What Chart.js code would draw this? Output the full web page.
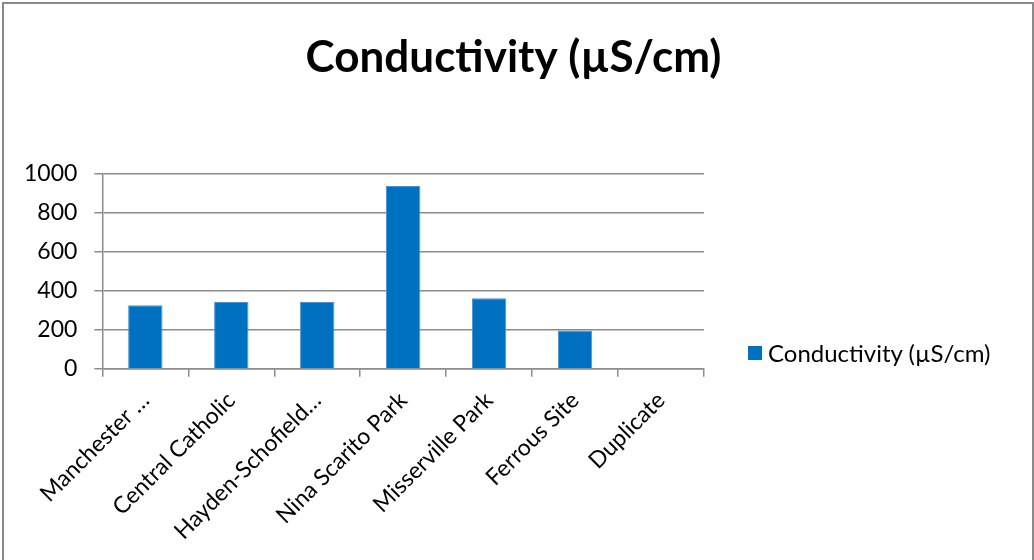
<!DOCTYPE html>
<html>
<head>
<meta charset="utf-8">
<script src="https://cdn.jsdelivr.net/npm/chart.js@4"></script>
<style>
html,body{margin:0;padding:0;background:#fff;}
#wrap{position:relative;width:1034px;height:560px;}
#legend{position:absolute;left:748px;top:339px;font-family:Lato, sans-serif;font-size:24px;color:#000;white-space:nowrap;line-height:28px;}
#legend .item{display:flex;align-items:center;}
#legend .box{display:inline-block;width:14px;height:14px;margin-right:6px;}
</style>
</head>
<body>
<div id="wrap"><canvas id="c" width="1034" height="560"></canvas><div id="legend"></div></div>
<script>
const categories = ["Manchester …", "Central Catholic", "Hayden-Schofield…", "Nina Scarito Park", "Misserville Park", "Ferrous Site", "Duplicate"];
const seriesName = "Conductivity (µS/cm)";
const conductivity = [326, 342, 342, 938, 362, 196, 0];
const yTicks = [0, 200, 400, 600, 800, 1000];

const FONT = "Lato";
const gridColor = "#8c8c8c";
const barColor = "#0070C0";

const borderPlugin = {
  id: 'outerBorder',
  beforeDraw(chart) {
    const ctx = chart.ctx;
    ctx.save();
    ctx.fillStyle = '#fff';
    ctx.fillRect(0, 0, chart.width, chart.height);
    ctx.strokeStyle = '#8a8a8a';
    ctx.lineWidth = 2;
    ctx.beginPath();
    ctx.moveTo(3, 560);
    ctx.lineTo(3, 3);
    ctx.lineTo(1033, 3);
    ctx.lineTo(1033, 560);
    ctx.stroke();
    ctx.restore();
  }
};

const htmlLegendPlugin = {
  id: 'htmlLegend',
  afterUpdate(chart) {
    const el = document.getElementById('legend');
    el.innerHTML = '';
    chart.data.datasets.forEach(ds => {
      const item = document.createElement('div');
      item.className = 'item';
      const box = document.createElement('span');
      box.className = 'box';
      box.style.background = ds.backgroundColor;
      const txt = document.createElement('span');
      txt.textContent = ds.label;
      item.appendChild(box);
      item.appendChild(txt);
      el.appendChild(item);
    });
  }
};

new Chart(document.getElementById('c'), {
  type: 'bar',
  data: {
    labels: categories,
    datasets: [{
      label: seriesName,
      data: conductivity,
      backgroundColor: barColor,
      borderColor: '#4a95d4',
      borderWidth: 1,
      borderSkipped: 'bottom',
      barPercentage: 0.4,
      categoryPercentage: 1.0,
      yAxisID: 'y'
    }]
  },
  options: {
    responsive: false,
    animation: false,
    devicePixelRatio: 1,
    layout: { padding: { left: 7, right: 14, top: 0, bottom: 5 } },
    plugins: {
      title: {
        display: true,
        text: seriesName,
        color: '#000',
        font: { family: FONT, size: 44, weight: 'bold' },
        padding: { top: 31, bottom: 90 }
      },
      legend: { display: false },
      tooltip: { enabled: false }
    },
    scales: {
      x: {
        grid: { drawOnChartArea: false, drawTicks: true, tickLength: 8, color: gridColor, lineWidth: 1.5 },
        border: { display: true, color: gridColor, width: 1.5 },
        ticks: {
          color: '#000',
          font: { family: FONT, size: 23 },
          maxRotation: 45, minRotation: 45,
          autoSkip: false,
          padding: 10
        }
      },
      y: {
        min: 0, max: 1000,
        afterBuildTicks(axis) { axis.ticks = yTicks.map(v => ({ value: v })); },
        grid: { color: gridColor, lineWidth: 1.5, tickLength: 8, drawTicks: true },
        border: { display: true, color: gridColor, width: 1.5 },
        ticks: {
          color: '#000',
          font: { family: FONT, size: 23 },
          padding: 17,
          callback: (v) => String(v)
        }
      },
      legendSpace: {
        type: 'linear',
        position: 'right',
        display: true,
        grid: { display: false, drawTicks: false },
        border: { display: false },
        ticks: { display: false },
        afterFit(axis) { axis.width = 316; }
      }
    }
  },
  plugins: [borderPlugin, htmlLegendPlugin]
});
</script>
</body>
</html>
